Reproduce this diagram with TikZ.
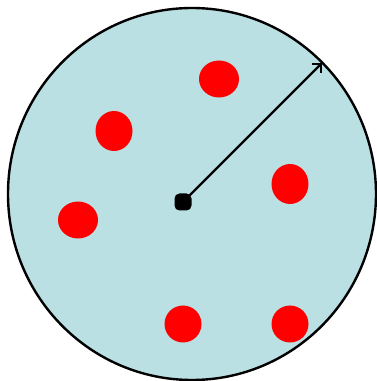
\documentclass[tikz,border=0pt]{standalone}
\usetikzlibrary{arrows.meta,shapes.geometric}
\definecolor{bgblue}{RGB}{186,224,227}
\begin{document}
\begin{tikzpicture}[x=1pt,y=1pt,
  blob/.style={ellipse,fill=red,draw=none,inner sep=0pt},
  hub/.style={rectangle,rounded corners=5pt,fill=black,inner sep=0pt,minimum size=17pt}]
\useasboundingbox (0,0) rectangle (376,381);
\draw[line width=2.4pt,fill=bgblue] (192,187) ellipse [x radius=184,y radius=186];
\node[blob,minimum width=40pt,minimum height=37pt] (b1) at (219,302) {};
\node[blob,minimum width=37pt,minimum height=40pt] (b2) at (114,250) {};
\node[blob,minimum width=37pt,minimum height=40pt] (b3) at (290,197) {};
\node[blob,minimum width=40pt,minimum height=37pt] (b4) at (78,161) {};
\node[blob,minimum width=37pt,minimum height=37pt] (b5) at (183,57) {};
\node[blob,minimum width=37pt,minimum height=37pt] (b6) at (290,57) {};
\node[hub] (c) at (183,179) {};
\coordinate (r) at (322,318);
\draw[line width=2.3pt,-{Straight Barb[length=6pt,width=12pt]}] (c.center) -- (r);
\end{tikzpicture}
\end{document}
